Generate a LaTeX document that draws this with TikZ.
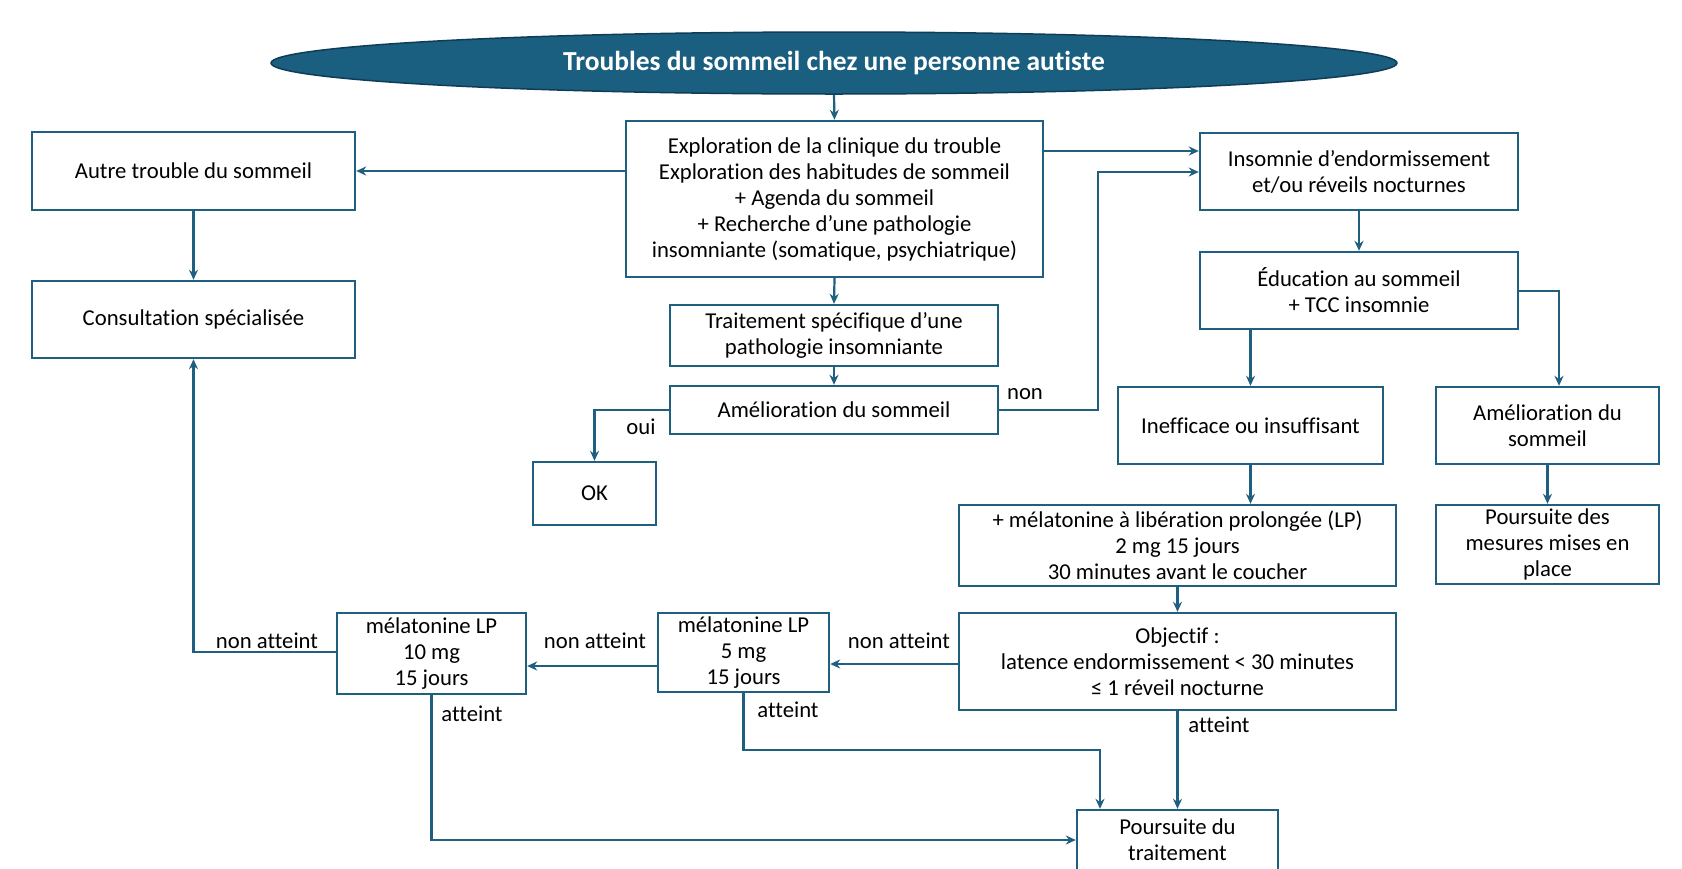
\documentclass[tikz,border=0pt]{standalone}
\usepackage{fontspec}
\setmainfont{Carlito}[Ligatures={NoCommon,NoContextual}]
\usetikzlibrary{arrows.meta,shapes.geometric}
\definecolor{bl}{HTML}{1F5F80}
\definecolor{elfill}{HTML}{1A5E80}
\definecolor{eldraw}{HTML}{0F3D57}
\tikzset{
  box/.style={draw=bl, line width=2.4pt, fill=white, align=center, inner sep=0pt,
    font=\fontsize{22.7pt}{26pt}\selectfont},
  el/.style={ellipse, draw=eldraw, line width=1.5pt, fill=elfill, text=white,
    inner sep=0pt, font=\fontsize{27.5pt}{30pt}\selectfont\bfseries},
  arr/.style={draw=bl, line width=2.2pt, -{Stealth[length=10pt,width=9pt]}},
  lbl/.style={inner sep=0pt, font=\fontsize{22.7pt}{26pt}\selectfont}
}
\begin{document}
\begin{tikzpicture}[x=1pt,y=-1pt]
\useasboundingbox (0,0) rectangle (1682,868);
\clip (0,0) rectangle (1682,868);
\fill[white] (0,0) rectangle (1682,868);

\node[el, minimum width=1126, minimum height=62] (title) at (834,63) {Troubles du sommeil chez une personne autiste};

\node[box, minimum width=417, minimum height=156] (expl) at (834.5,199) {Exploration de la clinique du trouble\\Exploration des habitudes de sommeil\\+ Agenda du sommeil\\+ Recherche d’une pathologie\\insomniante (somatique, psychiatrique)};
\node[box, minimum width=323, minimum height=78] (autre) at (193.5,171) {Autre trouble du sommeil};
\node[box, minimum width=323, minimum height=77] (consult) at (193.5,319.5) {Consultation spécialisée};
\node[box, minimum width=328, minimum height=61] (trait) at (834,335.5) {Traitement spécifique d’une\\pathologie insomniante};
\node[box, minimum width=328, minimum height=48] (amel) at (834,410) {Amélioration du sommeil};
\node[box, minimum width=123, minimum height=63] (ok) at (594.5,493.5) {OK};
\node[box, minimum width=318, minimum height=77] (insom) at (1359,171.5) {Insomnie d’endormissement\\et/ou réveils nocturnes};
\node[box, minimum width=318, minimum height=77] (educ) at (1359,290.5) {Éducation au sommeil\\+ TCC insomnie};
\node[box, minimum width=265, minimum height=77] (ineff) at (1250.5,425.5) {Inefficace ou insuffisant};
\node[box, minimum width=223, minimum height=77] (amel2) at (1547.5,425.5) {Amélioration du\\sommeil};
\node[box, minimum width=437, minimum height=81] (mel) at (1177.5,545.5) {+ mélatonine à libération prolongée (LP)\\2 mg 15 jours\\30 minutes avant le coucher};
\node[box, minimum width=223, minimum height=79] (pours1) at (1547.5,544.5) {Poursuite des\\mesures mises en\\place};
\node[box, minimum width=437, minimum height=97] (obj) at (1177.5,661.5) {Objectif :\\latence endormissement < 30 minutes\\≤ 1 réveil nocturne};
\node[box, minimum width=171, minimum height=79] (m5) at (743.5,652.5) {mélatonine LP\\5 mg\\15 jours};
\node[box, minimum width=189, minimum height=81] (m10) at (431.5,653.5) {mélatonine LP\\10 mg\\15 jours};
\node[box, minimum width=201, minimum height=60] (pours2) at (1177.5,840) {Poursuite du\\traitement};

% connectors
\draw[arr] (title.south) -- (expl.north);
\draw[arr] (expl.west |- autre.east) -- (autre.east);
\coordinate (c1) at (0,151);
\draw[arr] (expl.east |- c1) -- (insom.west |- c1);
\coordinate (c2) at (1098,172);
\draw[arr] (amel.east) -| (c2) -- (insom.west |- c2);
\draw[arr] (amel.west) -| (ok.north);
\draw[arr] (autre.south) -- (consult.north);
\draw[arr] (expl.south) -- (trait.north);
\draw[arr] (trait.south) -- (amel.north);
\draw[arr] (insom.south) -- (educ.north);
\draw[arr] (educ.south -| ineff.north) -- (ineff.north);
\coordinate (c3) at (1559,291);
\draw[arr] (educ.east |- c3) -| (amel2.north -| c3);
\draw[arr] (ineff.south) -- (ineff.south |- mel.north);
\draw[arr] (amel2.south) -- (pours1.north);
\draw[arr] (mel.south) -- (obj.north);
\coordinate (c4) at (0,664);
\draw[arr] (obj.west |- c4) -- (m5.east |- c4);
\coordinate (c5) at (0,666);
\draw[arr] (m5.west |- c5) -- (m10.east |- c5);
\coordinate (c6) at (193.5,652);
\draw[arr] (m10.west |- c6) -| (consult.south);
\draw[arr] (m10.south) |- (pours2.west);
\coordinate (c7) at (1100,750);
\draw[arr] (m5.south) |- (c7) -- (c7 |- pours2.north);
\draw[arr] (obj.south) -- (pours2.north);

% labels
\node[lbl] (lnon) at (1025,394) {non};
\node[lbl] (loui) at (641,427) {oui};
\node[lbl] (lna1) at (899,641) {non atteint};
\node[lbl] (lna2) at (595,641) {non atteint};
\node[lbl] (lna3) at (267,641) {non atteint};
\node[lbl] (la1) at (472,714) {atteint};
\node[lbl] (la2) at (788,710) {atteint};
\node[lbl] (la3) at (1219,725) {atteint};
\end{tikzpicture}
\end{document}
